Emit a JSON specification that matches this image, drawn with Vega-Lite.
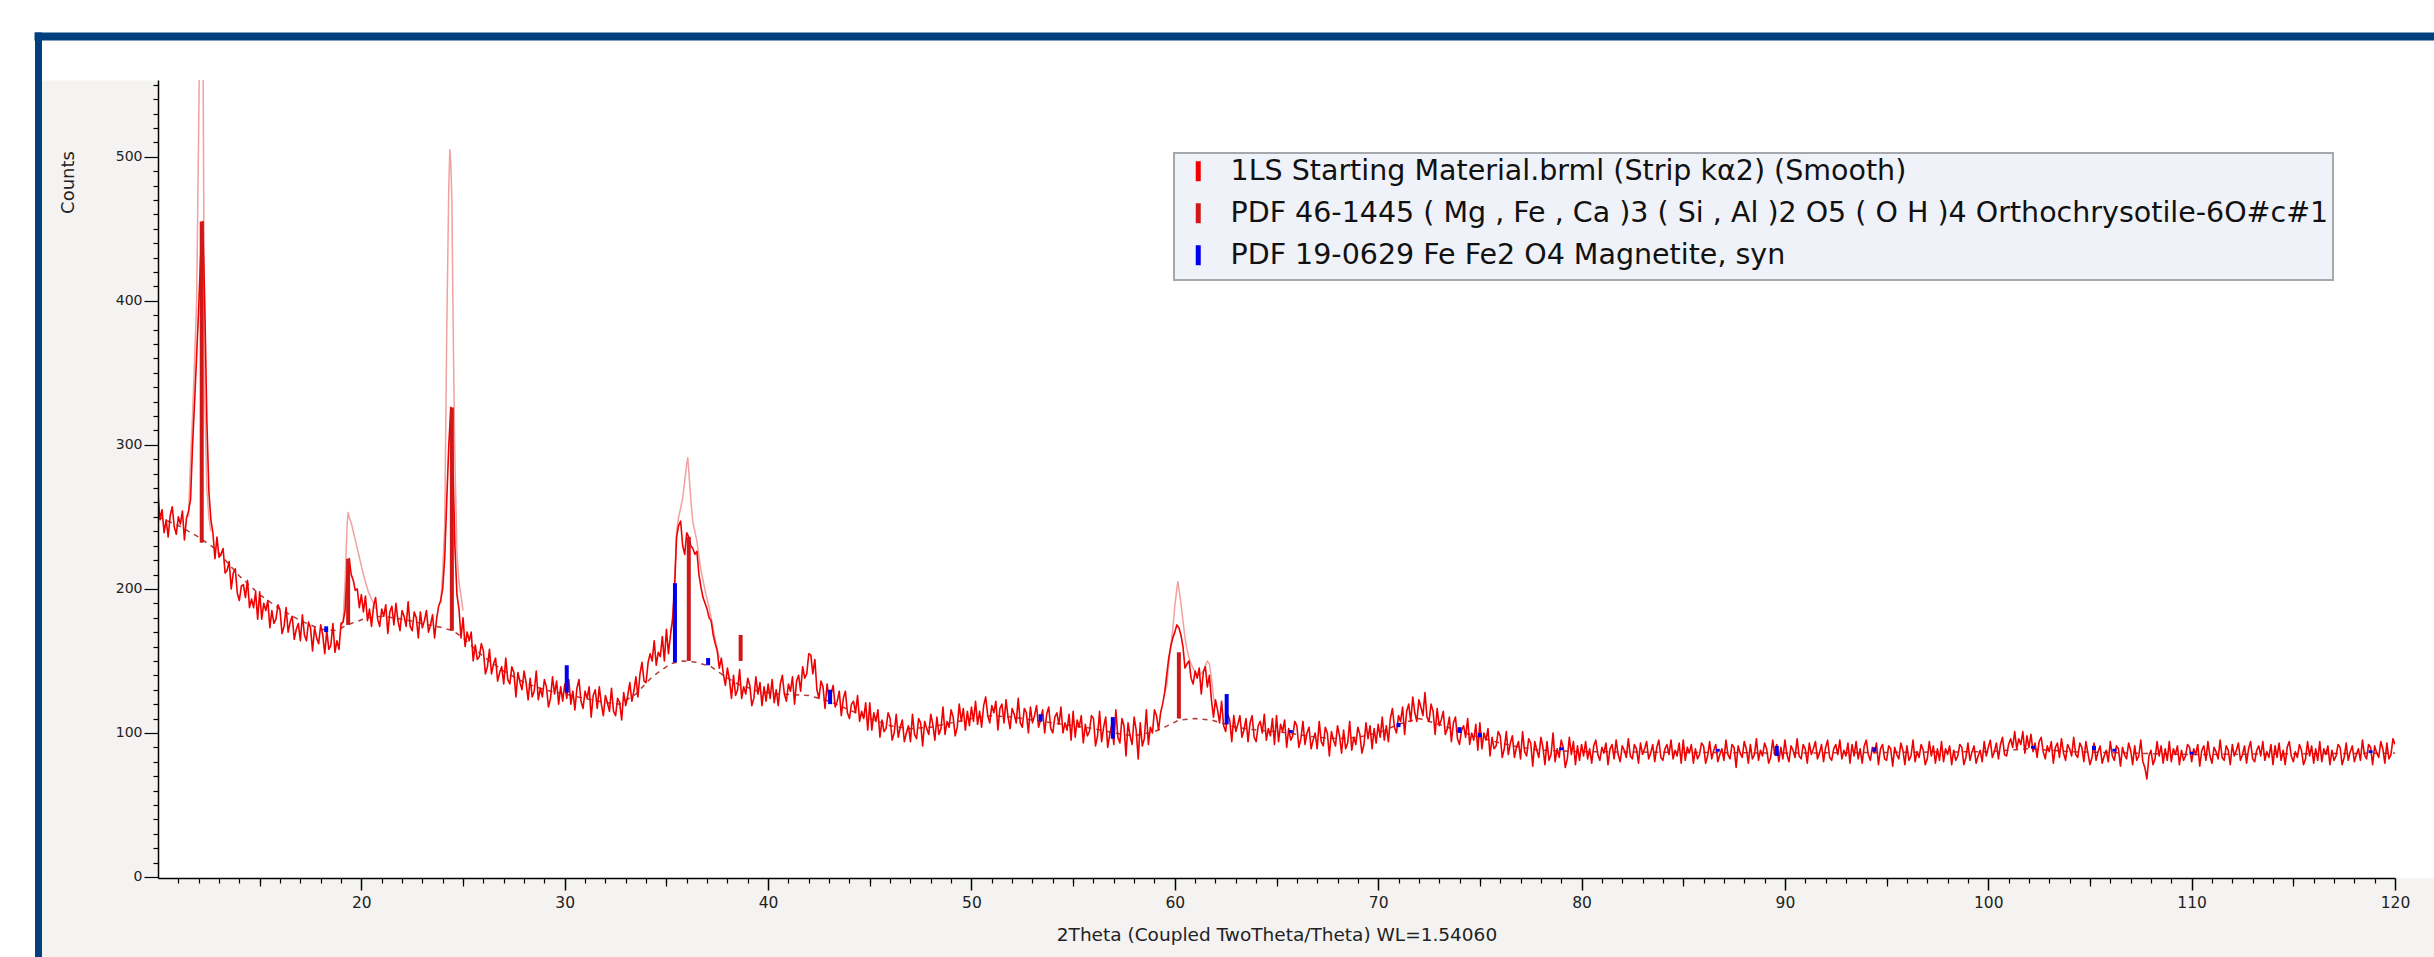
{
"$schema": "https://vega.github.io/schema/vega-lite/v6.json",
"width": 2237, "height": 798,
"autosize": {"type": "none"},
"padding": {"left": 158, "top": 80, "right": 39, "bottom": 79},
"background": "#ffffff",
"config": {
  "view": {"stroke": null, "fill": "#ffffff"},
  "font": "DejaVu Sans",
  "axis": {"grid": false, "labelFont": "DejaVu Sans", "titleFont": "DejaVu Sans", "labelColor": "#222222", "titleColor": "#222222", "titleFontWeight": "normal", "domainColor": "#000000", "tickColor": "#000000"},
  "legend": {"strokeWidth": 2}
},
"datasets": {
"pattern": [
{"t":10,"c":266},{"t":10.1,"c":248},{"t":10.2,"c":255},{"t":10.3,"c":239},{"t":10.4,"c":248},{"t":10.5,"c":236},{"t":10.6,"c":251},{"t":10.7,"c":257},{"t":10.8,"c":243},{"t":10.9,"c":238},
{"t":11,"c":250},{"t":11.1,"c":245},{"t":11.2,"c":254},{"t":11.3,"c":234},{"t":11.4,"c":249},{"t":11.5,"c":254},{"t":11.6,"c":262},{"t":11.7,"c":300},{"t":11.8,"c":330},{"t":11.9,"c":362},
{"t":12,"c":395},{"t":12.1,"c":432},{"t":12.2,"c":455},{"t":12.3,"c":398},{"t":12.4,"c":318},{"t":12.5,"c":268},{"t":12.6,"c":248},{"t":12.7,"c":239},{"t":12.8,"c":221},{"t":12.9,"c":236},
{"t":13,"c":222},{"t":13.1,"c":224},{"t":13.2,"c":228},{"t":13.3,"c":211},{"t":13.4,"c":213},{"t":13.5,"c":219},{"t":13.6,"c":200},{"t":13.7,"c":211},{"t":13.8,"c":214},{"t":13.9,"c":197},
{"t":14,"c":192},{"t":14.1,"c":202},{"t":14.2,"c":203},{"t":14.3,"c":194},{"t":14.4,"c":206},{"t":14.5,"c":187},{"t":14.6,"c":193},{"t":14.7,"c":187},{"t":14.8,"c":198},{"t":14.9,"c":179},
{"t":15,"c":198},{"t":15.1,"c":179},{"t":15.2,"c":190},{"t":15.3,"c":185},{"t":15.4,"c":192},{"t":15.5,"c":173},{"t":15.6,"c":185},{"t":15.7,"c":176},{"t":15.8,"c":179},{"t":15.9,"c":189},
{"t":16,"c":185},{"t":16.1,"c":169},{"t":16.2,"c":174},{"t":16.3,"c":187},{"t":16.4,"c":170},{"t":16.5,"c":177},{"t":16.6,"c":181},{"t":16.7,"c":165},{"t":16.8,"c":172},{"t":16.9,"c":176},
{"t":17,"c":164},{"t":17.1,"c":182},{"t":17.2,"c":168},{"t":17.3,"c":164},{"t":17.4,"c":177},{"t":17.5,"c":173},{"t":17.6,"c":157},{"t":17.7,"c":173},{"t":17.8,"c":166},{"t":17.9,"c":162},
{"t":18,"c":175},{"t":18.1,"c":168},{"t":18.2,"c":155},{"t":18.3,"c":171},{"t":18.4,"c":158},{"t":18.5,"c":161},{"t":18.6,"c":176},{"t":18.7,"c":156},{"t":18.8,"c":164},{"t":18.9,"c":158},
{"t":19,"c":176},{"t":19.1,"c":177},{"t":19.2,"c":185},{"t":19.3,"c":214},{"t":19.4,"c":221},{"t":19.5,"c":210},{"t":19.6,"c":206},{"t":19.7,"c":199},{"t":19.8,"c":200},{"t":19.9,"c":187},
{"t":20,"c":196},{"t":20.1,"c":184},{"t":20.2,"c":195},{"t":20.3,"c":178},{"t":20.4,"c":186},{"t":20.5,"c":174},{"t":20.6,"c":188},{"t":20.7,"c":194},{"t":20.8,"c":179},{"t":20.9,"c":174},
{"t":21,"c":186},{"t":21.1,"c":181},{"t":21.2,"c":189},{"t":21.3,"c":169},{"t":21.4,"c":184},{"t":21.5,"c":188},{"t":21.6,"c":175},{"t":21.7,"c":190},{"t":21.8,"c":178},{"t":21.9,"c":171},
{"t":22,"c":185},{"t":22.1,"c":181},{"t":22.2,"c":174},{"t":22.3,"c":191},{"t":22.4,"c":174},{"t":22.5,"c":171},{"t":22.6,"c":184},{"t":22.7,"c":180},{"t":22.8,"c":166},{"t":22.9,"c":184},
{"t":23,"c":173},{"t":23.1,"c":178},{"t":23.2,"c":185},{"t":23.3,"c":170},{"t":23.4,"c":175},{"t":23.5,"c":182},{"t":23.6,"c":166},{"t":23.7,"c":179},{"t":23.8,"c":188},{"t":23.9,"c":192},
{"t":24,"c":200},{"t":24.1,"c":222},{"t":24.2,"c":262},{"t":24.3,"c":300},{"t":24.4,"c":326},{"t":24.5,"c":288},{"t":24.6,"c":230},{"t":24.7,"c":196},{"t":24.8,"c":186},{"t":24.9,"c":166},
{"t":25,"c":180},{"t":25.1,"c":160},{"t":25.2,"c":170},{"t":25.3,"c":164},{"t":25.4,"c":170},{"t":25.5,"c":150},{"t":25.6,"c":161},{"t":25.7,"c":151},{"t":25.8,"c":153},{"t":25.9,"c":162},
{"t":26,"c":157},{"t":26.1,"c":141},{"t":26.2,"c":146},{"t":26.3,"c":158},{"t":26.4,"c":141},{"t":26.5,"c":148},{"t":26.6,"c":152},{"t":26.7,"c":136},{"t":26.8,"c":142},{"t":26.9,"c":146},
{"t":27,"c":134},{"t":27.1,"c":152},{"t":27.2,"c":137},{"t":27.3,"c":134},{"t":27.4,"c":146},{"t":27.5,"c":142},{"t":27.6,"c":125},{"t":27.7,"c":142},{"t":27.8,"c":135},{"t":27.9,"c":130},
{"t":28,"c":143},{"t":28.1,"c":135},{"t":28.2,"c":123},{"t":28.3,"c":138},{"t":28.4,"c":125},{"t":28.5,"c":129},{"t":28.6,"c":143},{"t":28.7,"c":123},{"t":28.8,"c":131},{"t":28.9,"c":125},
{"t":29,"c":137},{"t":29.1,"c":132},{"t":29.2,"c":118},{"t":29.3,"c":124},{"t":29.4,"c":139},{"t":29.5,"c":127},{"t":29.6,"c":136},{"t":29.7,"c":120},{"t":29.8,"c":132},{"t":29.9,"c":122},
{"t":30,"c":134},{"t":30.1,"c":124},{"t":30.2,"c":137},{"t":30.3,"c":120},{"t":30.4,"c":129},{"t":30.5,"c":116},{"t":30.6,"c":131},{"t":30.7,"c":137},{"t":30.8,"c":122},{"t":30.9,"c":117},
{"t":31,"c":129},{"t":31.1,"c":124},{"t":31.2,"c":132},{"t":31.3,"c":111},{"t":31.4,"c":126},{"t":31.5,"c":130},{"t":31.6,"c":117},{"t":31.7,"c":132},{"t":31.8,"c":120},{"t":31.9,"c":112},
{"t":32,"c":126},{"t":32.1,"c":121},{"t":32.2,"c":115},{"t":32.3,"c":131},{"t":32.4,"c":115},{"t":32.5,"c":112},{"t":32.6,"c":124},{"t":32.7,"c":121},{"t":32.8,"c":109},{"t":32.9,"c":128},
{"t":33,"c":119},{"t":33.1,"c":126},{"t":33.2,"c":135},{"t":33.3,"c":122},{"t":33.4,"c":129},{"t":33.5,"c":139},{"t":33.6,"c":125},{"t":33.7,"c":141},{"t":33.8,"c":149},{"t":33.9,"c":136},
{"t":34,"c":135},{"t":34.1,"c":149},{"t":34.2,"c":155},{"t":34.3,"c":150},{"t":34.4,"c":164},{"t":34.5,"c":147},{"t":34.6,"c":156},{"t":34.7,"c":153},{"t":34.8,"c":167},{"t":34.9,"c":150},
{"t":35,"c":172},{"t":35.1,"c":155},{"t":35.2,"c":168},{"t":35.3,"c":178},{"t":35.4,"c":200},{"t":35.5,"c":236},{"t":35.6,"c":244},{"t":35.7,"c":247},{"t":35.8,"c":230},{"t":35.9,"c":224},
{"t":36,"c":239},{"t":36.1,"c":236},{"t":36.2,"c":230},{"t":36.3,"c":228},{"t":36.4,"c":224},{"t":36.5,"c":226},{"t":36.6,"c":210},{"t":36.7,"c":201},{"t":36.8,"c":194},{"t":36.9,"c":190},
{"t":37,"c":186},{"t":37.1,"c":180},{"t":37.2,"c":178},{"t":37.3,"c":168},{"t":37.4,"c":162},{"t":37.5,"c":157},{"t":37.6,"c":145},{"t":37.7,"c":152},{"t":37.8,"c":141},{"t":37.9,"c":133},
{"t":38,"c":145},{"t":38.1,"c":137},{"t":38.2,"c":124},{"t":38.3,"c":140},{"t":38.4,"c":126},{"t":38.5,"c":130},{"t":38.6,"c":144},{"t":38.7,"c":124},{"t":38.8,"c":132},{"t":38.9,"c":127},
{"t":39,"c":138},{"t":39.1,"c":133},{"t":39.2,"c":119},{"t":39.3,"c":124},{"t":39.4,"c":139},{"t":39.5,"c":127},{"t":39.6,"c":135},{"t":39.7,"c":119},{"t":39.8,"c":132},{"t":39.9,"c":122},
{"t":40,"c":134},{"t":40.1,"c":124},{"t":40.2,"c":137},{"t":40.3,"c":121},{"t":40.4,"c":130},{"t":40.5,"c":119},{"t":40.6,"c":134},{"t":40.7,"c":140},{"t":40.8,"c":127},{"t":40.9,"c":122},
{"t":41,"c":134},{"t":41.1,"c":129},{"t":41.2,"c":139},{"t":41.3,"c":120},{"t":41.4,"c":136},{"t":41.5,"c":140},{"t":41.6,"c":129},{"t":41.7,"c":146},{"t":41.8,"c":138},{"t":41.9,"c":141},
{"t":42,"c":155},{"t":42.1,"c":154},{"t":42.2,"c":141},{"t":42.3,"c":151},{"t":42.4,"c":130},{"t":42.5,"c":124},{"t":42.6,"c":136},{"t":42.7,"c":132},{"t":42.8,"c":117},{"t":42.9,"c":134},
{"t":43,"c":123},{"t":43.1,"c":127},{"t":43.2,"c":133},{"t":43.3,"c":118},{"t":43.4,"c":122},{"t":43.5,"c":129},{"t":43.6,"c":112},{"t":43.7,"c":124},{"t":43.8,"c":129},{"t":43.9,"c":114},
{"t":44,"c":110},{"t":44.1,"c":120},{"t":44.2,"c":122},{"t":44.3,"c":114},{"t":44.4,"c":126},{"t":44.5,"c":108},{"t":44.6,"c":115},{"t":44.7,"c":110},{"t":44.8,"c":121},{"t":44.9,"c":102},
{"t":45,"c":121},{"t":45.1,"c":102},{"t":45.2,"c":114},{"t":45.3,"c":108},{"t":45.4,"c":116},{"t":45.5,"c":97},{"t":45.6,"c":109},{"t":45.7,"c":101},{"t":45.8,"c":103},{"t":45.9,"c":114},
{"t":46,"c":110},{"t":46.1,"c":95},{"t":46.2,"c":100},{"t":46.3,"c":113},{"t":46.4,"c":97},{"t":46.5,"c":104},{"t":46.6,"c":109},{"t":46.7,"c":94},{"t":46.8,"c":100},{"t":46.9,"c":105},
{"t":47,"c":94},{"t":47.1,"c":113},{"t":47.2,"c":99},{"t":47.3,"c":96},{"t":47.4,"c":110},{"t":47.5,"c":107},{"t":47.6,"c":91},{"t":47.7,"c":108},{"t":47.8,"c":103},{"t":47.9,"c":99},
{"t":48,"c":113},{"t":48.1,"c":106},{"t":48.2,"c":95},{"t":48.3,"c":111},{"t":48.4,"c":99},{"t":48.5,"c":103},{"t":48.6,"c":118},{"t":48.7,"c":99},{"t":48.8,"c":108},{"t":48.9,"c":104},
{"t":49,"c":116},{"t":49.1,"c":111},{"t":49.2,"c":98},{"t":49.3,"c":104},{"t":49.4,"c":120},{"t":49.5,"c":108},{"t":49.6,"c":117},{"t":49.7,"c":102},{"t":49.8,"c":115},{"t":49.9,"c":105},
{"t":50,"c":118},{"t":50.1,"c":108},{"t":50.2,"c":122},{"t":50.3,"c":106},{"t":50.4,"c":115},{"t":50.5,"c":104},{"t":50.6,"c":119},{"t":50.7,"c":125},{"t":50.8,"c":112},{"t":50.9,"c":107},
{"t":51,"c":119},{"t":51.1,"c":114},{"t":51.2,"c":122},{"t":51.3,"c":102},{"t":51.4,"c":117},{"t":51.5,"c":120},{"t":51.6,"c":107},{"t":51.7,"c":123},{"t":51.8,"c":111},{"t":51.9,"c":103},
{"t":52,"c":117},{"t":52.1,"c":113},{"t":52.2,"c":107},{"t":52.3,"c":124},{"t":52.4,"c":107},{"t":52.5,"c":104},{"t":52.6,"c":117},{"t":52.7,"c":114},{"t":52.8,"c":100},{"t":52.9,"c":118},
{"t":53,"c":107},{"t":53.1,"c":112},{"t":53.2,"c":119},{"t":53.3,"c":104},{"t":53.4,"c":109},{"t":53.5,"c":116},{"t":53.6,"c":100},{"t":53.7,"c":113},{"t":53.8,"c":118},{"t":53.9,"c":103},
{"t":54,"c":100},{"t":54.1,"c":111},{"t":54.2,"c":114},{"t":54.3,"c":106},{"t":54.4,"c":118},{"t":54.5,"c":100},{"t":54.6,"c":107},{"t":54.7,"c":102},{"t":54.8,"c":113},{"t":54.9,"c":95},
{"t":55,"c":115},{"t":55.1,"c":97},{"t":55.2,"c":109},{"t":55.3,"c":104},{"t":55.4,"c":112},{"t":55.5,"c":93},{"t":55.6,"c":106},{"t":55.7,"c":98},{"t":55.8,"c":101},{"t":55.9,"c":112},
{"t":56,"c":110},{"t":56.1,"c":91},{"t":56.2,"c":98},{"t":56.3,"c":115},{"t":56.4,"c":94},{"t":56.5,"c":104},{"t":56.6,"c":111},{"t":56.7,"c":90},{"t":56.8,"c":99},{"t":56.9,"c":106},
{"t":57,"c":92},{"t":57.1,"c":116},{"t":57.2,"c":97},{"t":57.3,"c":93},{"t":57.4,"c":110},{"t":57.5,"c":105},{"t":57.6,"c":84},{"t":57.7,"c":107},{"t":57.8,"c":98},{"t":57.9,"c":92},
{"t":58,"c":111},{"t":58.1,"c":102},{"t":58.2,"c":82},{"t":58.3,"c":107},{"t":58.4,"c":91},{"t":58.5,"c":96},{"t":58.6,"c":116},{"t":58.7,"c":92},{"t":58.8,"c":104},{"t":58.9,"c":100},
{"t":59,"c":116},{"t":59.1,"c":112},{"t":59.2,"c":102},{"t":59.3,"c":114},{"t":59.4,"c":120},{"t":59.5,"c":128},{"t":59.6,"c":140},{"t":59.7,"c":152},{"t":59.8,"c":160},{"t":59.9,"c":166},
{"t":60,"c":170},{"t":60.1,"c":175},{"t":60.2,"c":173},{"t":60.3,"c":168},{"t":60.4,"c":160},{"t":60.5,"c":145},{"t":60.6,"c":148},{"t":60.7,"c":150},{"t":60.8,"c":138},{"t":60.9,"c":134},
{"t":61,"c":143},{"t":61.1,"c":138},{"t":61.2,"c":145},{"t":61.3,"c":127},{"t":61.4,"c":142},{"t":61.5,"c":146},{"t":61.6,"c":132},{"t":61.7,"c":140},{"t":61.8,"c":123},{"t":61.9,"c":111},
{"t":62,"c":123},{"t":62.1,"c":116},{"t":62.2,"c":107},{"t":62.3,"c":122},{"t":62.4,"c":105},{"t":62.5,"c":101},{"t":62.6,"c":113},{"t":62.7,"c":109},{"t":62.8,"c":94},{"t":62.9,"c":112},
{"t":63,"c":101},{"t":63.1,"c":106},{"t":63.2,"c":112},{"t":63.3,"c":97},{"t":63.4,"c":102},{"t":63.5,"c":110},{"t":63.6,"c":94},{"t":63.7,"c":107},{"t":63.8,"c":112},{"t":63.9,"c":97},
{"t":64,"c":94},{"t":64.1,"c":105},{"t":64.2,"c":108},{"t":64.3,"c":100},{"t":64.4,"c":113},{"t":64.5,"c":95},{"t":64.6,"c":103},{"t":64.7,"c":98},{"t":64.8,"c":110},{"t":64.9,"c":92},
{"t":65,"c":112},{"t":65.1,"c":94},{"t":65.2,"c":106},{"t":65.3,"c":101},{"t":65.4,"c":109},{"t":65.5,"c":90},{"t":65.6,"c":103},{"t":65.7,"c":95},{"t":65.8,"c":98},{"t":65.9,"c":108},
{"t":66,"c":105},{"t":66.1,"c":90},{"t":66.2,"c":96},{"t":66.3,"c":108},{"t":66.4,"c":92},{"t":66.5,"c":100},{"t":66.6,"c":104},{"t":66.7,"c":89},{"t":66.8,"c":95},{"t":66.9,"c":100},
{"t":67,"c":89},{"t":67.1,"c":108},{"t":67.2,"c":94},{"t":67.3,"c":91},{"t":67.4,"c":104},{"t":67.5,"c":100},{"t":67.6,"c":84},{"t":67.7,"c":101},{"t":67.8,"c":95},{"t":67.9,"c":91},
{"t":68,"c":105},{"t":68.1,"c":98},{"t":68.2,"c":86},{"t":68.3,"c":102},{"t":68.4,"c":89},{"t":68.5,"c":93},{"t":68.6,"c":108},{"t":68.7,"c":88},{"t":68.8,"c":97},{"t":68.9,"c":92},
{"t":69,"c":104},{"t":69.1,"c":99},{"t":69.2,"c":86},{"t":69.3,"c":92},{"t":69.4,"c":107},{"t":69.5,"c":96},{"t":69.6,"c":105},{"t":69.7,"c":89},{"t":69.8,"c":103},{"t":69.9,"c":93},
{"t":70,"c":106},{"t":70.1,"c":97},{"t":70.2,"c":111},{"t":70.3,"c":95},{"t":70.4,"c":105},{"t":70.5,"c":94},{"t":70.6,"c":110},{"t":70.7,"c":117},{"t":70.8,"c":104},{"t":70.9,"c":100},
{"t":71,"c":112},{"t":71.1,"c":108},{"t":71.2,"c":118},{"t":71.3,"c":99},{"t":71.4,"c":115},{"t":71.5,"c":120},{"t":71.6,"c":108},{"t":71.7,"c":125},{"t":71.8,"c":114},{"t":71.9,"c":108},
{"t":72,"c":123},{"t":72.1,"c":118},{"t":72.2,"c":112},{"t":72.3,"c":128},{"t":72.4,"c":111},{"t":72.5,"c":108},{"t":72.6,"c":120},{"t":72.7,"c":115},{"t":72.8,"c":99},{"t":72.9,"c":117},
{"t":73,"c":105},{"t":73.1,"c":109},{"t":73.2,"c":115},{"t":73.3,"c":99},{"t":73.4,"c":103},{"t":73.5,"c":111},{"t":73.6,"c":94},{"t":73.7,"c":107},{"t":73.8,"c":111},{"t":73.9,"c":96},
{"t":74,"c":92},{"t":74.1,"c":102},{"t":74.2,"c":105},{"t":74.3,"c":97},{"t":74.4,"c":110},{"t":74.5,"c":92},{"t":74.6,"c":100},{"t":74.7,"c":95},{"t":74.8,"c":106},{"t":74.9,"c":88},
{"t":75,"c":107},{"t":75.1,"c":89},{"t":75.2,"c":100},{"t":75.3,"c":95},{"t":75.4,"c":103},{"t":75.5,"c":84},{"t":75.6,"c":97},{"t":75.7,"c":89},{"t":75.8,"c":91},{"t":75.9,"c":101},
{"t":76,"c":98},{"t":76.1,"c":83},{"t":76.2,"c":89},{"t":76.3,"c":101},{"t":76.4,"c":85},{"t":76.5,"c":93},{"t":76.6,"c":98},{"t":76.7,"c":83},{"t":76.8,"c":90},{"t":76.9,"c":94},
{"t":77,"c":82},{"t":77.1,"c":101},{"t":77.2,"c":87},{"t":77.3,"c":84},{"t":77.4,"c":96},{"t":77.5,"c":93},{"t":77.6,"c":77},{"t":77.7,"c":94},{"t":77.8,"c":88},{"t":77.9,"c":83},
{"t":78,"c":97},{"t":78.1,"c":90},{"t":78.2,"c":78},{"t":78.3,"c":94},{"t":78.4,"c":81},{"t":78.5,"c":85},{"t":78.6,"c":100},{"t":78.7,"c":80},{"t":78.8,"c":89},{"t":78.9,"c":83},
{"t":79,"c":95},{"t":79.1,"c":90},{"t":79.2,"c":76},{"t":79.3,"c":82},{"t":79.4,"c":97},{"t":79.5,"c":85},{"t":79.6,"c":94},{"t":79.7,"c":78},{"t":79.8,"c":91},{"t":79.9,"c":81},
{"t":80,"c":92},{"t":80.1,"c":84},{"t":80.2,"c":94},{"t":80.3,"c":82},{"t":80.4,"c":89},{"t":80.5,"c":79},{"t":80.6,"c":91},{"t":80.7,"c":95},{"t":80.8,"c":85},{"t":80.9,"c":81},
{"t":81,"c":90},{"t":81.1,"c":86},{"t":81.2,"c":93},{"t":81.3,"c":78},{"t":81.4,"c":89},{"t":81.5,"c":92},{"t":81.6,"c":82},{"t":81.7,"c":95},{"t":81.8,"c":85},{"t":81.9,"c":80},
{"t":82,"c":91},{"t":82.1,"c":88},{"t":82.2,"c":83},{"t":82.3,"c":96},{"t":82.4,"c":84},{"t":82.5,"c":82},{"t":82.6,"c":92},{"t":82.7,"c":89},{"t":82.8,"c":79},{"t":82.9,"c":93},
{"t":83,"c":85},{"t":83.1,"c":89},{"t":83.2,"c":94},{"t":83.3,"c":82},{"t":83.4,"c":86},{"t":83.5,"c":92},{"t":83.6,"c":80},{"t":83.7,"c":90},{"t":83.8,"c":95},{"t":83.9,"c":83},
{"t":84,"c":81},{"t":84.1,"c":89},{"t":84.2,"c":92},{"t":84.3,"c":85},{"t":84.4,"c":95},{"t":84.5,"c":82},{"t":84.6,"c":88},{"t":84.7,"c":84},{"t":84.8,"c":93},{"t":84.9,"c":79},
{"t":85,"c":95},{"t":85.1,"c":81},{"t":85.2,"c":90},{"t":85.3,"c":86},{"t":85.4,"c":92},{"t":85.5,"c":79},{"t":85.6,"c":89},{"t":85.7,"c":82},{"t":85.8,"c":85},{"t":85.9,"c":93},
{"t":86,"c":91},{"t":86.1,"c":79},{"t":86.2,"c":84},{"t":86.3,"c":94},{"t":86.4,"c":82},{"t":86.5,"c":88},{"t":86.6,"c":92},{"t":86.7,"c":80},{"t":86.8,"c":85},{"t":86.9,"c":89},
{"t":87,"c":81},{"t":87.1,"c":95},{"t":87.2,"c":85},{"t":87.3,"c":82},{"t":87.4,"c":92},{"t":87.5,"c":90},{"t":87.6,"c":76},{"t":87.7,"c":91},{"t":87.8,"c":86},{"t":87.9,"c":83},
{"t":88,"c":94},{"t":88.1,"c":89},{"t":88.2,"c":79},{"t":88.3,"c":92},{"t":88.4,"c":82},{"t":88.5,"c":85},{"t":88.6,"c":96},{"t":88.7,"c":81},{"t":88.8,"c":88},{"t":88.9,"c":84},
{"t":89,"c":93},{"t":89.1,"c":89},{"t":89.2,"c":79},{"t":89.3,"c":83},{"t":89.4,"c":95},{"t":89.5,"c":85},{"t":89.6,"c":92},{"t":89.7,"c":80},{"t":89.8,"c":90},{"t":89.9,"c":82},
{"t":90,"c":95},{"t":90.1,"c":85},{"t":90.2,"c":80},{"t":90.3,"c":91},{"t":90.4,"c":88},{"t":90.5,"c":83},{"t":90.6,"c":96},{"t":90.7,"c":84},{"t":90.8,"c":82},{"t":90.9,"c":92},
{"t":91,"c":89},{"t":91.1,"c":79},{"t":91.2,"c":93},{"t":91.3,"c":85},{"t":91.4,"c":89},{"t":91.5,"c":94},{"t":91.6,"c":82},{"t":91.7,"c":86},{"t":91.8,"c":92},{"t":91.9,"c":80},
{"t":92,"c":90},{"t":92.1,"c":95},{"t":92.2,"c":83},{"t":92.3,"c":81},{"t":92.4,"c":89},{"t":92.5,"c":92},{"t":92.6,"c":85},{"t":92.7,"c":95},{"t":92.8,"c":82},{"t":92.9,"c":88},
{"t":93,"c":84},{"t":93.1,"c":93},{"t":93.2,"c":79},{"t":93.3,"c":92},{"t":93.4,"c":84},{"t":93.5,"c":94},{"t":93.6,"c":82},{"t":93.7,"c":89},{"t":93.8,"c":79},{"t":93.9,"c":91},
{"t":94,"c":95},{"t":94.1,"c":85},{"t":94.2,"c":81},{"t":94.3,"c":90},{"t":94.4,"c":86},{"t":94.5,"c":93},{"t":94.6,"c":78},{"t":94.7,"c":89},{"t":94.8,"c":92},{"t":94.9,"c":82},
{"t":95,"c":81},{"t":95.1,"c":91},{"t":95.2,"c":89},{"t":95.3,"c":77},{"t":95.4,"c":90},{"t":95.5,"c":85},{"t":95.6,"c":82},{"t":95.7,"c":93},{"t":95.8,"c":88},{"t":95.9,"c":78},
{"t":96,"c":91},{"t":96.1,"c":81},{"t":96.2,"c":84},{"t":96.3,"c":95},{"t":96.4,"c":80},{"t":96.5,"c":87},{"t":96.6,"c":83},{"t":96.7,"c":92},{"t":96.8,"c":88},{"t":96.9,"c":78},
{"t":97,"c":82},{"t":97.1,"c":94},{"t":97.2,"c":84},{"t":97.3,"c":91},{"t":97.4,"c":79},{"t":97.5,"c":89},{"t":97.6,"c":81},{"t":97.7,"c":94},{"t":97.8,"c":80},{"t":97.9,"c":89},
{"t":98,"c":85},{"t":98.1,"c":91},{"t":98.2,"c":78},{"t":98.3,"c":88},{"t":98.4,"c":81},{"t":98.5,"c":84},{"t":98.6,"c":92},{"t":98.7,"c":90},{"t":98.8,"c":78},{"t":98.9,"c":83},
{"t":99,"c":93},{"t":99.1,"c":81},{"t":99.2,"c":87},{"t":99.3,"c":91},{"t":99.4,"c":79},{"t":99.5,"c":84},{"t":99.6,"c":88},{"t":99.7,"c":80},{"t":99.8,"c":94},{"t":99.9,"c":84},
{"t":100,"c":90},{"t":100.1,"c":95},{"t":100.2,"c":83},{"t":100.3,"c":87},{"t":100.4,"c":93},{"t":100.5,"c":82},{"t":100.6,"c":92},{"t":100.7,"c":97},{"t":100.8,"c":85},{"t":100.9,"c":84},
{"t":101,"c":92},{"t":101.1,"c":96},{"t":101.2,"c":90},{"t":101.3,"c":101},{"t":101.4,"c":89},{"t":101.5,"c":96},{"t":101.6,"c":92},{"t":101.7,"c":101},{"t":101.8,"c":86},{"t":101.9,"c":98},
{"t":102,"c":90},{"t":102.1,"c":99},{"t":102.2,"c":87},{"t":102.3,"c":93},{"t":102.4,"c":83},{"t":102.5,"c":94},{"t":102.6,"c":97},{"t":102.7,"c":87},{"t":102.8,"c":82},{"t":102.9,"c":91},
{"t":103,"c":87},{"t":103.1,"c":94},{"t":103.2,"c":79},{"t":103.3,"c":90},{"t":103.4,"c":93},{"t":103.5,"c":83},{"t":103.6,"c":96},{"t":103.7,"c":86},{"t":103.8,"c":81},{"t":103.9,"c":92},
{"t":104,"c":89},{"t":104.1,"c":84},{"t":104.2,"c":97},{"t":104.3,"c":85},{"t":104.4,"c":83},{"t":104.5,"c":93},{"t":104.6,"c":90},{"t":104.7,"c":80},{"t":104.8,"c":94},{"t":104.9,"c":86},
{"t":105,"c":78},{"t":105.1,"c":83},{"t":105.2,"c":93},{"t":105.3,"c":81},{"t":105.4,"c":87},{"t":105.5,"c":91},{"t":105.6,"c":79},{"t":105.7,"c":84},{"t":105.8,"c":88},{"t":105.9,"c":80},
{"t":106,"c":94},{"t":106.1,"c":84},{"t":106.2,"c":81},{"t":106.3,"c":91},{"t":106.4,"c":89},{"t":106.5,"c":77},{"t":106.6,"c":90},{"t":106.7,"c":85},{"t":106.8,"c":82},{"t":106.9,"c":93},
{"t":107,"c":88},{"t":107.1,"c":78},{"t":107.2,"c":91},{"t":107.3,"c":81},{"t":107.4,"c":84},{"t":107.5,"c":95},{"t":107.6,"c":80},{"t":107.7,"c":76},{"t":107.8,"c":68},{"t":107.9,"c":84},
{"t":108,"c":88},{"t":108.1,"c":78},{"t":108.2,"c":82},{"t":108.3,"c":94},{"t":108.4,"c":84},{"t":108.5,"c":91},{"t":108.6,"c":79},{"t":108.7,"c":89},{"t":108.8,"c":81},{"t":108.9,"c":94},
{"t":109,"c":80},{"t":109.1,"c":89},{"t":109.2,"c":85},{"t":109.3,"c":91},{"t":109.4,"c":78},{"t":109.5,"c":88},{"t":109.6,"c":81},{"t":109.7,"c":84},{"t":109.8,"c":92},{"t":109.9,"c":90},
{"t":110,"c":80},{"t":110.1,"c":89},{"t":110.2,"c":85},{"t":110.3,"c":92},{"t":110.4,"c":77},{"t":110.5,"c":88},{"t":110.6,"c":91},{"t":110.7,"c":81},{"t":110.8,"c":94},{"t":110.9,"c":84},
{"t":111,"c":79},{"t":111.1,"c":90},{"t":111.2,"c":87},{"t":111.3,"c":82},{"t":111.4,"c":95},{"t":111.5,"c":83},{"t":111.6,"c":81},{"t":111.7,"c":91},{"t":111.8,"c":88},{"t":111.9,"c":78},
{"t":112,"c":92},{"t":112.1,"c":84},{"t":112.2,"c":88},{"t":112.3,"c":93},{"t":112.4,"c":81},{"t":112.5,"c":85},{"t":112.6,"c":91},{"t":112.7,"c":79},{"t":112.8,"c":89},{"t":112.9,"c":94},
{"t":113,"c":82},{"t":113.1,"c":80},{"t":113.2,"c":88},{"t":113.3,"c":91},{"t":113.4,"c":84},{"t":113.5,"c":94},{"t":113.6,"c":81},{"t":113.7,"c":87},{"t":113.8,"c":83},{"t":113.9,"c":92},
{"t":114,"c":78},{"t":114.1,"c":91},{"t":114.2,"c":83},{"t":114.3,"c":93},{"t":114.4,"c":81},{"t":114.5,"c":88},{"t":114.6,"c":78},{"t":114.7,"c":90},{"t":114.8,"c":94},{"t":114.9,"c":84},
{"t":115,"c":80},{"t":115.1,"c":87},{"t":115.2,"c":83},{"t":115.3,"c":92},{"t":115.4,"c":88},{"t":115.5,"c":78},{"t":115.6,"c":82},{"t":115.7,"c":94},{"t":115.8,"c":84},{"t":115.9,"c":91},
{"t":116,"c":79},{"t":116.1,"c":89},{"t":116.2,"c":81},{"t":116.3,"c":94},{"t":116.4,"c":80},{"t":116.5,"c":89},{"t":116.6,"c":85},{"t":116.7,"c":91},{"t":116.8,"c":78},{"t":116.9,"c":88},
{"t":117,"c":81},{"t":117.1,"c":84},{"t":117.2,"c":92},{"t":117.3,"c":90},{"t":117.4,"c":78},{"t":117.5,"c":83},{"t":117.6,"c":93},{"t":117.7,"c":81},{"t":117.8,"c":87},{"t":117.9,"c":91},
{"t":118,"c":80},{"t":118.1,"c":85},{"t":118.2,"c":89},{"t":118.3,"c":81},{"t":118.4,"c":95},{"t":118.5,"c":85},{"t":118.6,"c":82},{"t":118.7,"c":92},{"t":118.8,"c":90},{"t":118.9,"c":78},
{"t":119,"c":91},{"t":119.1,"c":86},{"t":119.2,"c":83},{"t":119.3,"c":94},{"t":119.4,"c":89},{"t":119.5,"c":79},{"t":119.6,"c":93},{"t":119.7,"c":82},{"t":119.8,"c":85},{"t":119.9,"c":96},
{"t":120,"c":92}
],
"raw": [
{"t":11.5,"c":250,"s":"a"},{"t":11.6,"c":290,"s":"a"},{"t":11.7,"c":320,"s":"a"},{"t":11.8,"c":360,"s":"a"},{"t":11.9,"c":400,"s":"a"},{"t":12,"c":520,"s":"a"},{"t":12.1,"c":650,"s":"a"},{"t":12.2,"c":610,"s":"a"},{"t":12.3,"c":330,"s":"a"},{"t":12.4,"c":270,"s":"a"},{"t":12.5,"c":250,"s":"a"},{"t":12.6,"c":240,"s":"a"},
{"t":19,"c":172,"s":"b"},{"t":19.1,"c":178,"s":"b"},{"t":19.2,"c":205,"s":"b"},{"t":19.3,"c":245,"s":"b"},{"t":19.35,"c":253,"s":"b"},{"t":19.4,"c":250,"s":"b"},{"t":19.5,"c":246,"s":"b"},{"t":19.6,"c":240,"s":"b"},{"t":19.7,"c":234,"s":"b"},{"t":19.8,"c":228,"s":"b"},{"t":19.9,"c":222,"s":"b"},{"t":20,"c":216,"s":"b"},{"t":20.1,"c":210,"s":"b"},{"t":20.2,"c":205,"s":"b"},{"t":20.3,"c":200,"s":"b"},{"t":20.4,"c":196,"s":"b"},{"t":20.5,"c":193,"s":"b"},{"t":20.6,"c":190,"s":"b"},{"t":20.7,"c":186,"s":"b"},
{"t":23.9,"c":190,"s":"c"},{"t":24,"c":212,"s":"c"},{"t":24.1,"c":245,"s":"c"},{"t":24.2,"c":380,"s":"c"},{"t":24.3,"c":480,"s":"c"},{"t":24.35,"c":505,"s":"c"},{"t":24.4,"c":495,"s":"c"},{"t":24.45,"c":470,"s":"c"},{"t":24.5,"c":400,"s":"c"},{"t":24.55,"c":340,"s":"c"},{"t":24.6,"c":290,"s":"c"},{"t":24.7,"c":225,"s":"c"},{"t":24.8,"c":205,"s":"c"},{"t":24.9,"c":195,"s":"c"},{"t":25,"c":185,"s":"c"},
{"t":35.2,"c":170,"s":"d"},{"t":35.3,"c":180,"s":"d"},{"t":35.4,"c":205,"s":"d"},{"t":35.5,"c":240,"s":"d"},{"t":35.6,"c":250,"s":"d"},{"t":35.7,"c":256,"s":"d"},{"t":35.8,"c":263,"s":"d"},{"t":35.9,"c":275,"s":"d"},{"t":36,"c":287,"s":"d"},{"t":36.05,"c":291,"s":"d"},{"t":36.1,"c":282,"s":"d"},{"t":36.2,"c":262,"s":"d"},{"t":36.3,"c":246,"s":"d"},{"t":36.4,"c":240,"s":"d"},{"t":36.5,"c":233,"s":"d"},{"t":36.6,"c":223,"s":"d"},{"t":36.7,"c":213,"s":"d"},{"t":36.8,"c":206,"s":"d"},{"t":36.9,"c":199,"s":"d"},{"t":37,"c":193,"s":"d"},{"t":37.1,"c":187,"s":"d"},{"t":37.2,"c":180,"s":"d"},{"t":37.3,"c":172,"s":"d"},{"t":37.4,"c":165,"s":"d"},{"t":37.5,"c":158,"s":"d"},{"t":37.6,"c":152,"s":"d"},
{"t":59.5,"c":128,"s":"e"},{"t":59.6,"c":132,"s":"e"},{"t":59.7,"c":148,"s":"e"},{"t":59.8,"c":160,"s":"e"},{"t":59.9,"c":172,"s":"e"},{"t":60,"c":188,"s":"e"},{"t":60.1,"c":200,"s":"e"},{"t":60.15,"c":205,"s":"e"},{"t":60.2,"c":200,"s":"e"},{"t":60.3,"c":190,"s":"e"},{"t":60.4,"c":178,"s":"e"},{"t":60.5,"c":166,"s":"e"},{"t":60.6,"c":158,"s":"e"},{"t":60.7,"c":152,"s":"e"},{"t":60.8,"c":148,"s":"e"},{"t":60.9,"c":145,"s":"e"},{"t":61,"c":142,"s":"e"},{"t":61.2,"c":140,"s":"e"},{"t":61.4,"c":143,"s":"e"},{"t":61.6,"c":150,"s":"e"},{"t":61.7,"c":148,"s":"e"},{"t":61.8,"c":138,"s":"e"},{"t":61.9,"c":125,"s":"e"},{"t":62,"c":118,"s":"e"}
],
"bg": [
{"t":10,"c":250},{"t":11,"c":244},{"t":11.5,"c":240},{"t":12,"c":236},{"t":12.8,"c":228},{"t":13.5,"c":217},{"t":14,"c":209},{"t":15,"c":196},{"t":16,"c":186},{"t":17,"c":178},{"t":18,"c":172},{"t":18.8,"c":171},{"t":19.3,"c":175},{"t":20.3,"c":180},{"t":21,"c":181},{"t":22,"c":179},{"t":23,"c":176},{"t":24,"c":173},{"t":24.5,"c":171},{"t":25,"c":166},{"t":26,"c":153},{"t":27,"c":143},{"t":28,"c":135},{"t":29,"c":130},{"t":30,"c":127},{"t":31,"c":124},{"t":32,"c":121},{"t":32.7,"c":120},{"t":33.5,"c":127},{"t":34.3,"c":139},{"t":35.2,"c":148},{"t":35.8,"c":150},{"t":36.5,"c":149},{"t":37.2,"c":146},{"t":37.8,"c":140},{"t":38.5,"c":134},{"t":39.5,"c":129},{"t":40.5,"c":127},{"t":42,"c":126},{"t":43,"c":122},{"t":44,"c":116},{"t":45,"c":110},{"t":46,"c":105},{"t":47,"c":103},{"t":48,"c":104},{"t":49,"c":107},{"t":50,"c":110},{"t":51,"c":112},{"t":52,"c":111},{"t":53,"c":109},{"t":54,"c":107},{"t":55,"c":105},{"t":56,"c":103},{"t":57,"c":100},{"t":58,"c":98},{"t":59,"c":101},{"t":59.5,"c":104},{"t":60.2,"c":109},{"t":61,"c":110},{"t":61.8,"c":109},{"t":62.5,"c":106},{"t":63,"c":104},{"t":64,"c":102},{"t":65,"c":101},{"t":66,"c":99},{"t":67,"c":97},{"t":68,"c":96},{"t":69,"c":97},{"t":70,"c":100},{"t":71,"c":106},{"t":72,"c":110},{"t":73,"c":106},{"t":74,"c":101},{"t":75,"c":97},{"t":76,"c":93},{"t":77,"c":90},{"t":78,"c":88},{"t":80,"c":87},{"t":90,"c":86},{"t":100,"c":87},{"t":102,"c":89},{"t":104,"c":87},{"t":110,"c":85},{"t":120,"c":86}
],
"chrysotile": [
{"t":12.15,"lo":232,"hi":455,"phase":"PDF 46-1445 ( Mg , Fe , Ca )3 ( Si , Al )2 O5 ( O H )4 Orthochrysotile-6O#c#1"},
{"t":19.35,"lo":175,"hi":221,"phase":"PDF 46-1445 ( Mg , Fe , Ca )3 ( Si , Al )2 O5 ( O H )4 Orthochrysotile-6O#c#1"},
{"t":24.45,"lo":171,"hi":326,"phase":"PDF 46-1445 ( Mg , Fe , Ca )3 ( Si , Al )2 O5 ( O H )4 Orthochrysotile-6O#c#1"},
{"t":36.1,"lo":150,"hi":236,"phase":"PDF 46-1445 ( Mg , Fe , Ca )3 ( Si , Al )2 O5 ( O H )4 Orthochrysotile-6O#c#1"},
{"t":38.65,"lo":150,"hi":168,"phase":"PDF 46-1445 ( Mg , Fe , Ca )3 ( Si , Al )2 O5 ( O H )4 Orthochrysotile-6O#c#1"},
{"t":60.2,"lo":110,"hi":156,"phase":"PDF 46-1445 ( Mg , Fe , Ca )3 ( Si , Al )2 O5 ( O H )4 Orthochrysotile-6O#c#1"}
],
"magnetite": [
{"t":18.27,"lo":170,"hi":174,"phase":"PDF 19-0629 Fe Fe2 O4 Magnetite, syn"},
{"t":30.1,"lo":128,"hi":147,"phase":"PDF 19-0629 Fe Fe2 O4 Magnetite, syn"},
{"t":35.42,"lo":149,"hi":204,"phase":"PDF 19-0629 Fe Fe2 O4 Magnetite, syn"},
{"t":37.05,"lo":147,"hi":152,"phase":"PDF 19-0629 Fe Fe2 O4 Magnetite, syn"},
{"t":43.05,"lo":120,"hi":130,"phase":"PDF 19-0629 Fe Fe2 O4 Magnetite, syn"},
{"t":53.4,"lo":108,"hi":113,"phase":"PDF 19-0629 Fe Fe2 O4 Magnetite, syn"},
{"t":56.95,"lo":96,"hi":111,"phase":"PDF 19-0629 Fe Fe2 O4 Magnetite, syn"},
{"t":62.55,"lo":106,"hi":127,"phase":"PDF 19-0629 Fe Fe2 O4 Magnetite, syn"},
{"t":65.7,"lo":100,"hi":102,"phase":"PDF 19-0629 Fe Fe2 O4 Magnetite, syn"},
{"t":71,"lo":104,"hi":107,"phase":"PDF 19-0629 Fe Fe2 O4 Magnetite, syn"},
{"t":74,"lo":100,"hi":104,"phase":"PDF 19-0629 Fe Fe2 O4 Magnetite, syn"},
{"t":75,"lo":97,"hi":100,"phase":"PDF 19-0629 Fe Fe2 O4 Magnetite, syn"},
{"t":79,"lo":88,"hi":90,"phase":"PDF 19-0629 Fe Fe2 O4 Magnetite, syn"},
{"t":86.7,"lo":87,"hi":89,"phase":"PDF 19-0629 Fe Fe2 O4 Magnetite, syn"},
{"t":89.6,"lo":84,"hi":91,"phase":"PDF 19-0629 Fe Fe2 O4 Magnetite, syn"},
{"t":94.4,"lo":87,"hi":90,"phase":"PDF 19-0629 Fe Fe2 O4 Magnetite, syn"},
{"t":102.2,"lo":89,"hi":91,"phase":"PDF 19-0629 Fe Fe2 O4 Magnetite, syn"},
{"t":105.2,"lo":88,"hi":91,"phase":"PDF 19-0629 Fe Fe2 O4 Magnetite, syn"},
{"t":106.2,"lo":87,"hi":89,"phase":"PDF 19-0629 Fe Fe2 O4 Magnetite, syn"},
{"t":110,"lo":85,"hi":87,"phase":"PDF 19-0629 Fe Fe2 O4 Magnetite, syn"},
{"t":118.8,"lo":86,"hi":88,"phase":"PDF 19-0629 Fe Fe2 O4 Magnetite, syn"}
]
},
"layer": [
{
  "data": {"name": "raw"},
  "mark": {"type": "line", "color": "#f2a0a0", "strokeWidth": 1.5, "clip": true, "strokeJoin": "round"},
  "encoding": {
    "x": {"field": "t", "type": "quantitative", "scale": {"domain": [10, 120], "nice": false, "zero": false},
      "axis": {"orient": "bottom", "offset": 120, "domainWidth": 240, "domainColor": "#f4f3f1", "domainCap": "square", "ticks": false, "labels": false, "title": null, "zindex": 0}},
    "y": {"field": "c", "type": "quantitative", "scale": {"domain": [-0.7, 553.3], "nice": false, "zero": false},
      "axis": {"orient": "left", "offset": 59, "domainWidth": 118, "domainColor": "#f4f3f1", "domainCap": "butt", "ticks": false, "labels": false, "title": null, "zindex": 0}},
    "detail": {"field": "s", "type": "nominal"}
  }
},
{
  "data": {"name": "bg"},
  "mark": {"type": "line", "color": "#b23a3a", "strokeWidth": 1.5, "strokeDash": [5, 5], "clip": true},
  "encoding": {
    "x": {"field": "t", "type": "quantitative", "scale": {"domain": [10, 120], "nice": false, "zero": false},
      "axis": {"orient": "top", "offset": 48, "values": [10], "tickOffset": -120.5, "tickSize": -930, "tickWidth": 7, "tickColor": "#023f7e", "domain": false, "labels": false, "title": null, "zindex": 2}},
    "y": {"field": "c", "type": "quantitative", "scale": {"domain": [-0.7, 553.3], "nice": false, "zero": false},
      "axis": {"orient": "left", "offset": 124, "values": [553], "tickOffset": -44, "tickSize": -2410, "tickWidth": 8, "tickColor": "#023f7e", "domain": false, "labels": false, "title": null, "zindex": 2}}
  }
},
{
  "data": {"name": "pattern"},
  "mark": {"type": "line", "color": "#f00000", "strokeWidth": 1.6, "clip": true, "strokeJoin": "round"},
  "encoding": {
    "x": {"field": "t", "type": "quantitative", "scale": {"domain": [10, 120], "nice": false, "zero": false},
      "axis": {"orient": "bottom", "values": [20, 30, 40, 50, 60, 70, 80, 90, 100, 110, 120], "tickSize": 12, "tickWidth": 1.5, "domainWidth": 1.5, "labelFontSize": 15.5, "labelPadding": 5, "labelFlush": false, "labelOverlap": false, "title": "2Theta (Coupled TwoTheta/Theta) WL=1.54060", "titleFontSize": 18.5, "titleY": 56, "titleBaseline": "middle", "zindex": 1}},
    "y": {"field": "c", "type": "quantitative", "scale": {"domain": [-0.7, 553.3], "nice": false, "zero": false},
      "axis": {"orient": "left", "values": [0, 100, 200, 300, 400, 500], "tickSize": 14, "tickWidth": 1.2, "domainWidth": 1.5, "labelFontSize": 14, "labelPadding": 2, "labelFlush": false, "labelOverlap": false, "title": "Counts", "titleFontSize": 18, "titleAngle": -90, "titleX": -90, "titleY": 102, "titleAlign": "center", "titleBaseline": "middle", "zindex": 1}}
  }
},
{
  "data": {"name": "chrysotile"},
  "mark": {"type": "rule", "strokeWidth": 4, "clip": true},
  "encoding": {
    "x": {"field": "t", "type": "quantitative", "scale": {"domain": [10, 120], "nice": false, "zero": false},
      "axis": {"orient": "bottom", "values": [11,12,13,14,15,16,17,18,19,21,22,23,24,25,26,27,28,29,31,32,33,34,35,36,37,38,39,41,42,43,44,45,46,47,48,49,51,52,53,54,55,56,57,58,59,61,62,63,64,65,66,67,68,69,71,72,73,74,75,76,77,78,79,81,82,83,84,85,86,87,88,89,91,92,93,94,95,96,97,98,99,101,102,103,104,105,106,107,108,109,111,112,113,114,115,116,117,118,119], "tickSize": 5, "tickWidth": 1.2, "domain": false, "labels": false, "title": null, "zindex": 1}},
    "y": {"field": "lo", "type": "quantitative", "scale": {"domain": [-0.7, 553.3], "nice": false, "zero": false},
      "axis": {"orient": "left", "values": [10,20,30,40,50,60,70,80,90,110,120,130,140,150,160,170,180,190,210,220,230,240,250,260,270,280,290,310,320,330,340,350,360,370,380,390,410,420,430,440,450,460,470,480,490,510,520,530,540,550], "tickSize": 5, "tickWidth": 1.2, "domain": false, "labels": false, "title": null, "zindex": 1}},
    "y2": {"field": "hi"},
    "color": {"field": "phase", "type": "nominal",
      "scale": {"domain": ["1LS Starting Material.brml (Strip kα2) (Smooth)", "PDF 46-1445 ( Mg , Fe , Ca )3 ( Si , Al )2 O5 ( O H )4 Orthochrysotile-6O#c#1", "PDF 19-0629 Fe Fe2 O4 Magnetite, syn"], "range": ["#f00000", "#d01818", "#0000f0"]},
      "legend": {"orient": "none", "legendX": 1016, "legendY": 73, "title": null, "direction": "vertical", "fillColor": "#eff2f8", "strokeColor": "#a5a8ad", "padding": 4, "rowPadding": 1, "labelFontSize": 28.5, "labelFont": "DejaVu Sans", "labelColor": "#111111", "labelLimit": 1500, "labelOffset": 18, "symbolType": "M0,-2V2", "symbolSize": 100, "symbolStrokeWidth": 5, "symbolOffset": 6, "symbolOpacity": 1}}
  }
},
{
  "data": {"name": "magnetite"},
  "mark": {"type": "rule", "strokeWidth": 4, "clip": true},
  "encoding": {
    "x": {"field": "t", "type": "quantitative", "scale": {"domain": [10, 120], "nice": false, "zero": false},
      "axis": {"orient": "bottom", "values": [15, 25, 35, 45, 55, 65, 75, 85, 95, 105, 115], "tickSize": 8, "tickWidth": 1.2, "domain": false, "labels": false, "title": null, "zindex": 1}},
    "y": {"field": "lo", "type": "quantitative", "scale": {"domain": [-0.7, 553.3], "nice": false, "zero": false}, "axis": null},
    "y2": {"field": "hi"},
    "color": {"field": "phase", "type": "nominal"}
  }
}
],
"resolve": {"axis": {"x": "independent", "y": "independent"}}
}
